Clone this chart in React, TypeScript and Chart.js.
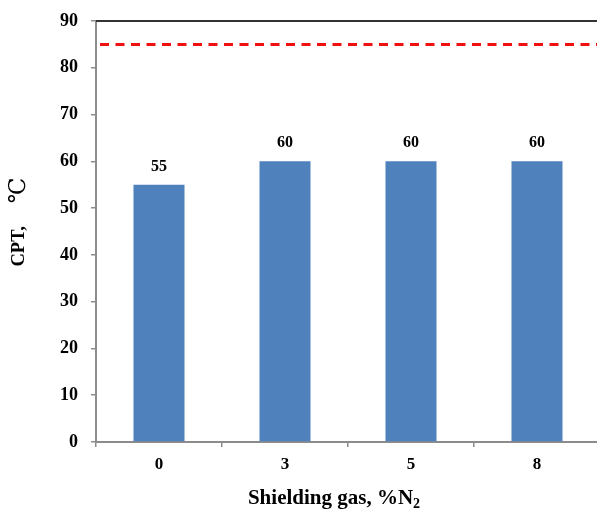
import React, { useEffect, useRef } from "react";
import { Chart, registerables } from "chart.js";

Chart.register(...registerables);

const categories = ["0", "3", "5", "8"];
const cptValues = [55, 60, 60, 60];
const referenceLine = 85;
const yTicks = [0, 10, 20, 30, 40, 50, 60, 70, 80, 90];

const SERIF = "'Liberation Serif', 'Times New Roman', 'DejaVu Serif', serif";

const overlayPlugin = {
  id: "overlay",
  afterDatasetsDraw(chart: any) {
    const { ctx, chartArea, scales } = chart;
    const y = scales.y;
    ctx.save();
    // top border
    ctx.strokeStyle = "#333333";
    ctx.lineWidth = 2;
    ctx.beginPath();
    ctx.moveTo(chartArea.left, chartArea.top);
    ctx.lineTo(chartArea.right + 5, chartArea.top);
    ctx.stroke();
    // red dashed reference line
    const ry = y.getPixelForValue(referenceLine);
    ctx.strokeStyle = "#f01010";
    ctx.lineWidth = 3;
    ctx.setLineDash([9, 6.5]);
    ctx.beginPath();
    ctx.moveTo(chartArea.left + 4, ry);
    ctx.lineTo(chartArea.right + 5, ry);
    ctx.stroke();
    ctx.setLineDash([]);
    // data labels
    const meta = chart.getDatasetMeta(0);
    ctx.fillStyle = "#000";
    ctx.font = `bold 16px ${SERIF}`;
    ctx.textAlign = "center";
    ctx.textBaseline = "middle";
    meta.data.forEach((bar: any, i: number) => {
      ctx.fillText(String(cptValues[i]), bar.x, bar.y - 18);
    });
    // x title with subscript
    ctx.font = `bold 21px ${SERIF}`;
    const main = "Shielding gas, %N";
    const sub = "2";
    const wMain = ctx.measureText(main).width;
    ctx.font = `bold 14px ${SERIF}`;
    const wSub = ctx.measureText(sub).width;
    const total = wMain + wSub;
    const cx = 334;
    const ty = 504;
    ctx.textAlign = "left";
    ctx.textBaseline = "alphabetic";
    ctx.font = `bold 21px ${SERIF}`;
    ctx.fillText(main, cx - total / 2, ty);
    ctx.font = `bold 14px ${SERIF}`;
    ctx.fillText(sub, cx - total / 2 + wMain, ty + 4);
    // y title (rotated)
    ctx.translate(19, 222);
    ctx.rotate(-Math.PI / 2);
    ctx.textBaseline = "middle";
    ctx.textAlign = "left";
    const span = 89;
    ctx.font = `bold 18.5px ${SERIF}`;
    ctx.fillText("CPT,", -span / 2, 0);
    ctx.font = `23px ${SERIF}`;
    const wDeg = ctx.measureText("\u2103").width;
    ctx.fillText("\u2103", span / 2 - wDeg, 0);
    ctx.restore();
  },
};

export default function App() {
  const ref = useRef<HTMLCanvasElement | null>(null);
  useEffect(() => {
    if (!ref.current) return;
    const chart = new Chart(ref.current, {
      type: "bar",
      data: {
        labels: categories,
        datasets: [
          {
            data: cptValues,
            backgroundColor: "#4f81bd",
            borderWidth: 0,
            categoryPercentage: 1,
            barPercentage: 0.405,
          },
        ],
      },
      options: {
        responsive: false,
        animation: false,
        events: [],
        layout: { padding: { left: 0, right: 4, top: 21, bottom: 0 } },
        plugins: { legend: { display: false }, tooltip: { enabled: false }, title: { display: false } },
        scales: {
          x: {
            grid: {
              offset: true,
              drawOnChartArea: false,
              drawTicks: true,
              tickLength: 5,
              color: "#8c8c8c",
              lineWidth: 1.5,
            },
            border: { color: "#8c8c8c", width: 2 },
            ticks: {
              color: "#000",
              font: { family: SERIF, size: 17, weight: "bold" },
              padding: 7,
            },
            afterFit(s: any) {
              s.height = 68;
              s.paddingLeft = 0;
              s.paddingRight = 0;
            },
          },
          y: {
            min: 0,
            max: 90,
            afterBuildTicks(s: any) {
              s.ticks = yTicks.map((v) => ({ value: v }));
            },
            grid: {
              drawOnChartArea: false,
              drawTicks: true,
              tickLength: 5,
              color: "#8c8c8c",
              lineWidth: 1.5,
            },
            border: { color: "#8c8c8c", width: 2 },
            ticks: {
              color: "#000",
              font: { family: SERIF, size: 18, weight: "bold" },
              padding: 13,
            },
            afterFit(s: any) {
              s.width = 96;
              s.paddingTop = 0;
              s.paddingBottom = 0;
            },
          },
        },
      },
      plugins: [overlayPlugin],
    });
    return () => chart.destroy();
  }, []);
  return (
    <div
      style={{
        position: "fixed",
        left: 0,
        top: 0,
        width: 597,
        height: 510,
        overflow: "hidden",
        background: "#fff",
      }}
    >
      <canvas ref={ref} width={604} height={510} style={{ width: 604, height: 510, display: "block" }} />
    </div>
  );
}
